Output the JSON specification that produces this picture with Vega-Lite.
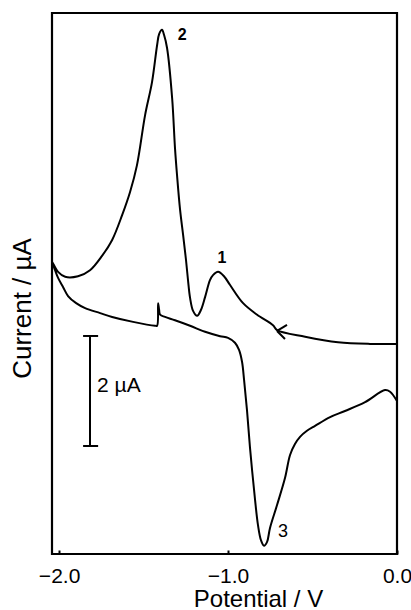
{
  "$schema": "https://vega.github.io/schema/vega-lite/v6.json",
  "width": 345,
  "height": 541,
  "autosize": {"type": "none"},
  "padding": {"left": 52, "top": 13, "right": 14, "bottom": 56},
  "background": "white",
  "config": {
    "view": {"stroke": "black", "strokeWidth": 2.2},
    "font": "Liberation Sans"
  },
  "encoding": {
    "x": {
      "field": "V", "type": "quantitative",
      "scale": {"domain": [-2.042, 0], "nice": false, "zero": false},
      "axis": {
        "title": "Potential / V", "values": [-2, -1, 0], "format": ".1f",
        "grid": false, "domain": false, "tickSize": -4, "tickColor": "black", "tickWidth": 2,
        "labelFont": "Liberation Sans", "labelFontSize": 21, "labelColor": "black",
        "labelFlush": false, "labelOverlap": false, "labelBound": false,
        "labelBaseline": "alphabetic", "labelPadding": 32,
        "titleFont": "Liberation Sans", "titleFontSize": 24, "titleFontWeight": "normal", "titleColor": "black",
        "titleX": 206, "titleY": 52, "titleBaseline": "alphabetic", "titleAlign": "center"
      }
    },
    "y": {
      "field": "I", "type": "quantitative",
      "scale": {"domain": [0, 9.836], "nice": false, "zero": false},
      "axis": {
        "title": "Current / µA", "grid": false, "domain": false, "ticks": false, "labels": false,
        "titleFont": "Liberation Sans", "titleFontSize": 26, "titleFontWeight": "normal", "titleColor": "black",
        "titleX": -22, "titleY": 295, "titleBaseline": "alphabetic", "titleAlign": "center", "titleAngle": -90
      }
    }
  },
  "layer": [
    {
      "data": {"values": [
        {"o":1,"V":0,"I":3.82},{"o":2,"V":-0.160,"I":3.82},{"o":3,"V":-0.349,"I":3.85},{"o":4,"V":-0.544,"I":3.95},
        {"o":5,"V":-0.710,"I":4.07},{"o":6,"V":-0.734,"I":4.16},{"o":7,"V":-0.828,"I":4.35},{"o":8,"V":-0.911,"I":4.56},
        {"o":9,"V":-0.988,"I":4.89},{"o":10,"V":-1.024,"I":5.05},{"o":11,"V":-1.059,"I":5.13},{"o":12,"V":-1.089,"I":5.07},
        {"o":13,"V":-1.107,"I":4.98},{"o":14,"V":-1.136,"I":4.67},{"o":15,"V":-1.160,"I":4.44},{"o":16,"V":-1.183,"I":4.33},
        {"o":17,"V":-1.207,"I":4.42},{"o":18,"V":-1.225,"I":4.66},{"o":19,"V":-1.237,"I":4.98},{"o":20,"V":-1.249,"I":5.35},
        {"o":21,"V":-1.266,"I":5.80},{"o":22,"V":-1.284,"I":6.26},{"o":22.5,"V":-1.302,"I":6.89},{"o":23,"V":-1.314,"I":7.38},{"o":24,"V":-1.331,"I":8.29},
        {"o":25,"V":-1.361,"I":9.20},{"o":26,"V":-1.379,"I":9.44},{"o":27,"V":-1.391,"I":9.53},{"o":28,"V":-1.408,"I":9.45},
        {"o":29,"V":-1.420,"I":9.25},{"o":30,"V":-1.450,"I":8.58},{"o":31,"V":-1.491,"I":7.98},{"o":32,"V":-1.539,"I":7.07},
        {"o":33,"V":-1.580,"I":6.58},{"o":34,"V":-1.627,"I":6.16},{"o":35,"V":-1.686,"I":5.71},{"o":36,"V":-1.746,"I":5.42},
        {"o":37,"V":-1.817,"I":5.16},{"o":38,"V":-1.888,"I":5.05},{"o":39,"V":-1.964,"I":5.04},{"o":40,"V":-2.006,"I":5.13},
        {"o":41,"V":-2.041,"I":5.31},
        {"o":42,"V":-2.024,"I":5.16},{"o":43,"V":-2.006,"I":5.02},{"o":44,"V":-1.976,"I":4.85},{"o":45,"V":-1.947,"I":4.69},
        {"o":46,"V":-1.899,"I":4.56},{"o":47,"V":-1.846,"I":4.47},{"o":48,"V":-1.757,"I":4.38},{"o":49,"V":-1.686,"I":4.31},
        {"o":50,"V":-1.562,"I":4.22},{"o":51,"V":-1.432,"I":4.15},{"o":52,"V":-1.420,"I":4.15},{"o":53,"V":-1.414,"I":4.56},
        {"o":54,"V":-1.408,"I":4.44},{"o":55,"V":-1.402,"I":4.35},{"o":56,"V":-1.373,"I":4.31},{"o":57,"V":-1.314,"I":4.25},
        {"o":58,"V":-1.225,"I":4.15},{"o":59,"V":-1.136,"I":4.04},{"o":60,"V":-1.047,"I":3.96},{"o":61,"V":-1.000,"I":3.93},
        {"o":62,"V":-0.959,"I":3.84},{"o":63,"V":-0.935,"I":3.71},{"o":64,"V":-0.917,"I":3.49},{"o":65,"V":-0.905,"I":3.16},
        {"o":66,"V":-0.888,"I":2.62},{"o":67,"V":-0.870,"I":1.93},{"o":68,"V":-0.840,"I":0.98},{"o":69,"V":-0.823,"I":0.53},
        {"o":70,"V":-0.805,"I":0.25},{"o":71,"V":-0.787,"I":0.15},{"o":72,"V":-0.769,"I":0.22},{"o":73,"V":-0.752,"I":0.47},
        {"o":74,"V":-0.710,"I":0.89},{"o":75,"V":-0.663,"I":1.38},{"o":76,"V":-0.633,"I":1.80},{"o":76.5,"V":-0.604,"I":2.00},
        {"o":77,"V":-0.574,"I":2.13},{"o":77.5,"V":-0.533,"I":2.24},{"o":78,"V":-0.485,"I":2.33},{"o":79,"V":-0.396,"I":2.49},
        {"o":80,"V":-0.308,"I":2.60},{"o":81,"V":-0.189,"I":2.76},
        {"o":82,"V":-0.071,"I":2.98},{"o":83,"V":-0.041,"I":2.95},{"o":84,"V":0,"I":2.78}
      ]},
      "mark": {"type": "line", "color": "black", "strokeWidth": 2, "interpolate": "catmull-rom"},
      "encoding": {"order": {"field": "o", "type": "quantitative"}}
    },
    {
      "data": {"values": [
        {"V":-1.817,"I":1.964,"V2":-1.817,"I2":3.964},
        {"V":-1.858,"I":3.964,"V2":-1.769,"I2":3.964},
        {"V":-1.858,"I":1.964,"V2":-1.769,"I2":1.964},
        {"V":-0.710,"I":4.055,"V2":-0.651,"I2":4.164},
        {"V":-0.710,"I":4.055,"V2":-0.663,"I2":3.909}
      ]},
      "mark": {"type": "rule", "color": "black", "strokeWidth": 2},
      "encoding": {"x2": {"field": "V2"}, "y2": {"field": "I2"}}
    },
    {
      "data": {"values": [{"V":-1.036,"I":5.38,"t":"1"}]},
      "mark": {"type": "text", "fontSize": 16, "fontWeight": "bold", "color": "black", "align": "center", "baseline": "middle"},
      "encoding": {"text": {"field": "t"}}
    },
    {
      "data": {"values": [{"V":-1.272,"I":9.44,"t":"2"}]},
      "mark": {"type": "text", "fontSize": 16, "fontWeight": "bold", "color": "black", "align": "center", "baseline": "middle"},
      "encoding": {"text": {"field": "t"}}
    },
    {
      "data": {"values": [{"V":-0.675,"I":0.40,"t":"3"}]},
      "mark": {"type": "text", "fontSize": 18, "color": "black", "align": "center", "baseline": "middle"},
      "encoding": {"text": {"field": "t"}}
    },
    {
      "data": {"values": [{"V":-1.775,"I":3.055,"t":"2 µA"}]},
      "mark": {"type": "text", "fontSize": 21, "color": "black", "align": "left", "baseline": "middle"},
      "encoding": {"text": {"field": "t"}}
    }
  ]
}
